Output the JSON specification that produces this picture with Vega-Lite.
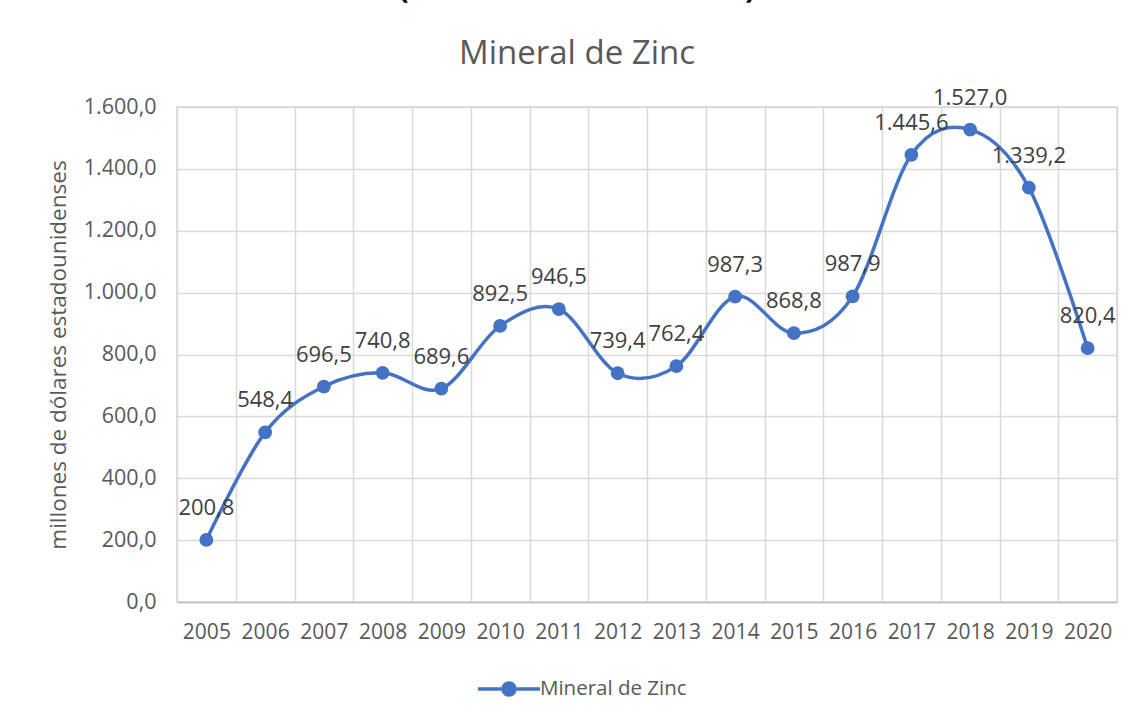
{
  "$schema": "https://vega.github.io/schema/vega-lite/v6.json",
  "width": 940,
  "height": 495,
  "autosize": {"type": "none"},
  "padding": {"left": 177, "top": 107, "right": 30, "bottom": 119},
  "background": "white",
  "config": {
    "locale": {"number": {"decimal": ",", "thousands": ".", "grouping": [3], "currency": ["", " €"]}},
    "font": "Open Sans",
    "view": {"stroke": "#D9D9D9", "strokeWidth": 1.5}
  },
  "title": {
    "text": "(en millones de dólares)",
    "subtitle": "Mineral de Zinc",
    "font": "Open Sans",
    "fontSize": 30,
    "fontWeight": "bold",
    "color": "#000000",
    "subtitleFont": "Open Sans",
    "subtitleFontSize": 33,
    "subtitleColor": "#595959",
    "subtitlePadding": 34,
    "anchor": "middle",
    "dx": -70,
    "offset": 16
  },
  "data": {
    "values": [
      {"year": "2005", "value": 200.8},
      {"year": "2006", "value": 548.4},
      {"year": "2007", "value": 696.5},
      {"year": "2008", "value": 740.8},
      {"year": "2009", "value": 689.6},
      {"year": "2010", "value": 892.5},
      {"year": "2011", "value": 946.5},
      {"year": "2012", "value": 739.4},
      {"year": "2013", "value": 762.4},
      {"year": "2014", "value": 987.3},
      {"year": "2015", "value": 868.8},
      {"year": "2016", "value": 987.9},
      {"year": "2017", "value": 1445.6},
      {"year": "2018", "value": 1527.0},
      {"year": "2019", "value": 1339.2},
      {"year": "2020", "value": 820.4}
    ]
  },
  "encoding": {
    "x": {
      "field": "year",
      "type": "ordinal",
      "scale": {"type": "band", "paddingInner": 0, "paddingOuter": 0},
      "axis": {
        "title": null,
        "labelAngle": 0,
        "labelFont": "Open Sans",
        "labelFontSize": 21,
        "labelColor": "#595959",
        "labelPadding": 19,
        "ticks": false,
        "tickBand": "extent",
        "grid": true,
        "gridColor": "#D9D9D9",
        "gridWidth": 1.5,
        "domainColor": "#BFBFBF",
        "domainWidth": 1.5
      }
    },
    "y": {
      "field": "value",
      "type": "quantitative",
      "scale": {"domain": [0, 1600], "nice": false},
      "axis": {
        "title": "millones de dólares estadounidenses",
        "titleFont": "Open Sans",
        "titleFontSize": 22.5,
        "titleFontWeight": "normal",
        "titleColor": "#595959",
        "titlePadding": 13,
        "values": [0, 200, 400, 600, 800, 1000, 1200, 1400, 1600],
        "format": ",.1f",
        "labelFont": "Open Sans",
        "labelFontSize": 21.5,
        "labelColor": "#595959",
        "labelPadding": 21,
        "ticks": false,
        "domain": false,
        "grid": true,
        "gridColor": "#D9D9D9",
        "gridWidth": 1.5
      }
    }
  },
  "layer": [
    {
      "mark": {"type": "line", "interpolate": "cardinal", "color": "#4472C4", "strokeWidth": 3.5}
    },
    {
      "mark": {"type": "point", "filled": true, "shape": "circle", "size": 190, "opacity": 1},
      "encoding": {
        "color": {
          "datum": "Mineral de Zinc",
          "type": "nominal",
          "scale": {"range": ["#4472C4"]},
          "legend": {
            "title": null,
            "orient": "none",
            "legendX": 301,
            "legendY": 551,
            "direction": "horizontal",
            "symbolType": "M-1,-0.056 L-0.25,-0.056 L-0.25,0.056 L-1,0.056 Z M0.25,-0.056 L1,-0.056 L1,0.056 L0.25,0.056 Z M-0.25,0 A0.25,0.25 0 1,0 0.25,0 A0.25,0.25 0 1,0 -0.25,0 Z",
            "symbolSize": 3844,
            "symbolFillColor": "#4472C4",
            "symbolStrokeWidth": 0,
            "labelFont": "Open Sans",
            "labelFontSize": 20.5,
            "labelColor": "#595959",
            "labelOffset": 0
          }
        }
      }
    },
    {
      "mark": {"type": "text", "baseline": "middle", "align": "center", "dy": -32, "font": "Open Sans", "fontSize": 22, "color": "#404040"},
      "encoding": {
        "text": {"field": "value", "type": "quantitative", "format": ",.1f"}
      }
    }
  ]
}
